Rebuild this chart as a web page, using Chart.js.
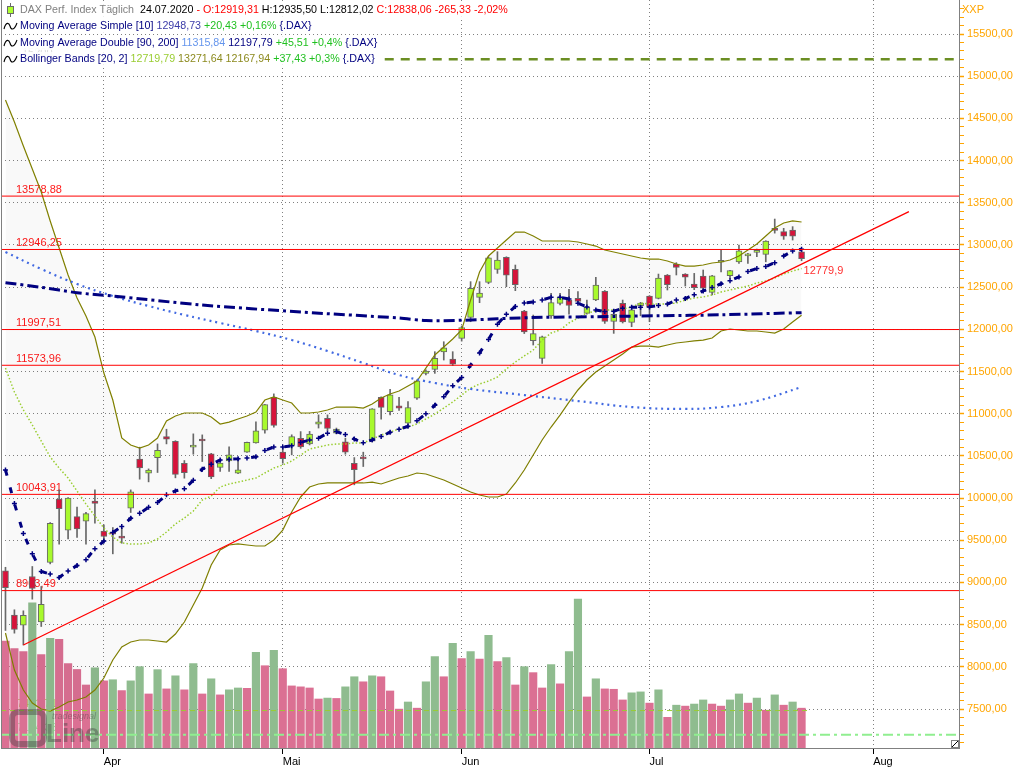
<!DOCTYPE html>
<html>
<head>
<meta charset="utf-8">
<script src="https://cdn.jsdelivr.net/npm/chart.js@4.4.0/dist/chart.umd.min.js"></script>
<style>
html, body { margin: 0; padding: 0; background: #fff; }
canvas { display: block; }
</style>
</head>
<body>
<canvas id="chart" width="1024" height="768"></canvas>
<script>
// DAX daily candles, 17.03.2020 - 24.07.2020
const dates = [
  '17.03','18.03','19.03','20.03','23.03','24.03','25.03','26.03','27.03','30.03','31.03',
  '01.04','02.04','03.04','06.04','07.04','08.04','09.04','14.04','15.04','16.04','17.04','20.04','21.04','22.04','23.04','24.04','27.04','28.04','29.04','30.04',
  '04.05','05.05','06.05','07.05','08.05','11.05','12.05','13.05','14.05','15.05','18.05','19.05','20.05','21.05','22.05','25.05','26.05','27.05','28.05','29.05',
  '02.06','03.06','04.06','05.06','08.06','09.06','10.06','11.06','12.06','15.06','16.06','17.06','18.06','19.06','22.06','23.06','24.06','25.06','26.06','29.06','30.06',
  '01.07','02.07','03.07','06.07','07.07','08.07','09.07','10.07','13.07','14.07','15.07','16.07','17.07','20.07','21.07','22.07','23.07','24.07'
];
const open = [9138,8612,8494,9071,8533,9236,9987,9620,9781,9726,
  9963,9608,9576,9533,9880,10461,10295,10480,10729,10674,
  10413,10603,10698,10524,10362,10441,10295,10544,10654,10804,
  11195,10544,10623,10709,10642,10875,10946,10769,10666,10413,
  10469,10674,11195,11025,11093,10887,11183,11478,11526,11731,
  11648,11893,12142,12379,12557,12711,12853,12711,12217,11865,
  11656,12158,12308,12347,12367,12189,12347,12450,12094,12308,
  12083,12280,12395,12367,12644,12774,12655,12537,12632,12438,
  12795,12636,12800,12870,12912,12889,13189,13157,13177,12919.31];
const high = [9180,8676,8664,9189,8952,9710,10097,10005,9892,9830,
  10097,9683,9651,9643,10097,10603,10346,10642,10816,10680,
  10445,10761,10749,10530,10420,10607,10473,10665,10903,11110,
  11235,10600,10750,10788,10790,10986,10986,10830,10710,10480,
  10544,11060,11200,11290,11195,11144,11400,11520,11735,11853,
  11735,12040,12565,12565,12860,12920,12860,12762,12225,12169,
  11920,12426,12426,12474,12446,12347,12616,12460,12217,12347,
  12240,12320,12400,12655,12650,12790,12660,12663,12703,12640,
  12940,12700,12999,12900,12950,13050,13307,13197,13217,12935.50];
const low = [8431,8399,8259,8802,8478,9220,9454,9517,9533,9454,
  9702,9485,9339,9465,9829,10224,10192,10303,10642,10240,
  10236,10520,10433,10230,10315,10315,10290,10540,10650,10770,
  10840,10413,10512,10590,10630,10830,10800,10760,10520,10157,
  10374,10665,10935,10985,11040,10863,11170,11460,11478,11636,
  11570,11860,12090,12316,12540,12663,12505,12458,11950,11814,
  11597,12130,12290,12181,12300,12180,12340,12070,11952,12075,
  12031,12160,12090,12360,12466,12644,12513,12470,12470,12407,
  12680,12600,12780,12780,12860,12800,13140,13066,13058,12812.02];
const close = [8939,8442,8610,8929,8741,9701,9874,10001,9633,9816,
  9936,9545,9571,9526,10075,10357,10333,10565,10697,10280,
  10302,10626,10676,10250,10415,10514,10336,10660,10796,11108,
  10862,10467,10729,10606,10759,10904,10825,10819,10543,10337,
  10465,11059,11075,11224,11066,11074,11391,11505,11657,11781,
  11587,12021,12487,12431,12848,12820,12643,12530,11970,11949,
  11911,12316,12382,12282,12331,12263,12524,12094,12178,12089,
  12232,12311,12261,12608,12528,12733,12617,12495,12489,12634,
  12800,12697,12931,12875,12920,13047,13172,13104,13103.39,12838.06];
// volume, Mio.
const volume = [57.2,53.2,51.6,77.6,50.0,58.6,58.1,45.1,42.0,33.7,
  42.9,35.9,36.5,30.7,35.9,43.5,28.9,41.9,31.6,38.6,
  31.1,45.1,28.9,37.0,28.4,31.1,32.1,31.9,51.1,44.0,
  52.2,42.4,33.2,32.7,32.1,26.2,26.7,26.5,32.7,38.1,
  35.4,38.6,38.1,30.5,20.8,24.6,21.3,35.4,48.9,38.1,
  56.0,47.8,51.6,47.6,60.2,46.2,48.4,33.7,43.5,40.3,
  32.1,44.6,34.3,51.6,79.7,27.3,37.0,31.6,31.4,25.7,
  29.5,30.0,24.0,31.1,16.4,22.9,22.4,23.5,25.7,23.5,
  22.4,25.7,28.9,24.0,26.7,20.2,28.4,22.9,24.6,21.3];
// Moving Average Simple [10]
const sma10 = [10334,9935,9580,9340,9130,9100,9060,9135,9200,9270,
  9400,9490,9592,9663,9760,9820,9890,9947,10038,10085,
  10110,10210,10342,10400,10450,10461,10465,10475,10490,10565,
  10605,10605,10619,10660,10688,10710,10769,10788,10752,10700,
  10655,10690,10730,10780,10816,10850,10915,11000,11100,11200,
  11330,11430,11575,11720,11880,12060,12180,12270,12312,12324,
  12348,12379,12379,12360,12308,12265,12230,12212,12215,12250,
  12262,12262,12266,12282,12300,12347,12365,12410,12455,12495,
  12540,12577,12620,12685,12720,12745,12790,12870,12928.30,12948.73];
// Bollinger Bands [20, 2]
const bbUpper = [14718,14457,14173,13900,13627,13284,12964,12644,12371,12158,
  11909,11482,11162,10712,10629,10593,10629,10712,10913,10973,
  11008,11008,11008,10961,10878,10901,10937,10973,11020,11162,
  11198,11162,11127,11008,11008,11020,11044,11079,11079,11079,
  11067,11115,11186,11233,11269,11328,11387,11541,11696,11790,
  11885,11992,12347,12679,12869,12964,13059,13153,13153,13106,
  13047,13047,13047,13047,13035,13011,12987,12940,12916,12893,
  12869,12845,12833,12833,12810,12774,12750,12750,12762,12786,
  12798,12821,12869,12940,13011,13106,13201,13260,13284,13271.64];
const bbMiddle = [11541,11257,11044,10866,10676,10487,10356,10238,10084,9930,
  9787,9645,9539,9468,9456,9456,9468,9515,9598,9693,
  9764,9847,9977,10024,10131,10167,10190,10214,10238,10297,
  10356,10392,10439,10510,10581,10605,10629,10641,10641,10653,
  10653,10700,10747,10783,10819,10842,10878,10937,10996,11067,
  11138,11221,11304,11352,11387,11435,11530,11613,11684,11755,
  11873,11956,11992,12075,12134,12193,12217,12229,12229,12241,
  12264,12312,12300,12300,12300,12312,12347,12371,12383,12407,
  12442,12466,12490,12513,12549,12573,12608,12656,12691,12719.79];
const bbLower = [8401,7962,7725,7571,7500,7476,7524,7583,7607,7642,
  7725,7867,8081,8235,8294,8318,8318,8306,8294,8389,
  8531,8733,8934,9207,9384,9444,9456,9444,9432,9432,
  9503,9621,9835,10013,10131,10167,10179,10179,10179,10179,
  10179,10190,10167,10202,10238,10262,10297,10285,10250,10214,
  10167,10119,10072,10036,10013,10013,10048,10179,10333,10510,
  10688,10842,10984,11138,11281,11399,11494,11565,11636,11707,
  11790,11802,11802,11790,11814,11838,11850,11862,11873,11897,
  11980,12004,11992,11980,11980,11968,11956,12004,12087,12167.94];
// Moving Average Double [90, 200], read at sample bars
const ma90Idx = [0,4,8,12,16,20,24,28,32,36,40,44,48,52,58,64,70,76,80,84,89];
const ma90 = [12916,12715,12537,12395,12276,12170,12075,11980,11873,11743,11601,11458,11364,11293,11221,11150,11079,11056,11079,11150,11315.84];
const ma200Idx = [0,4,8,12,22,33,44,47,51,55,60,66,73,80,89];
const ma200 = [12552,12498,12434,12395,12288,12205,12134,12104,12107,12125,12142,12150,12161,12172,12197.79];
// horizontal lines and trend line
const levels = [13578.88, 12946.25, 11997.51, 11573.96, 10043.91, 8903.49];
const volLevels = [7481.71, 7194.38];
const targetLevel = 15200;
const trendIdx = [2, 101];
const trendValues = [8259, 13395];
const trendLabel = '12779,9';
// axis ticks
const monthIdx = [11, 31, 51, 72, 97];
const monthLabels = ['Apr', 'Mai', 'Jun', 'Jul', 'Aug'];
const priceMin = 7038, priceMax = 15903;

const FONT = 'Liberation Sans';
const fmt = v => v.toFixed(2).replace('.', ',');
const idx = dates.map((d, i) => i);
const xMin = -0.5, xMax = 106.6;

const upCol = '#adff2f', downCol = '#dc143c', edgeCol = '#6b6b6b';
const bodyColors = idx.map(i => close[i] >= open[i] ? upCol : downCol);
const volColors = idx.map(i => i > 0 && volume[i] > volume[i - 1] ? '#8fbc8f' : '#db7093');

function hLine(value, x0, x1, color, width, dash, order) {
  return { type: 'line', data: [{x: x0, y: value}, {x: x1, y: value}], borderColor: color,
    borderWidth: width, borderDash: dash, pointRadius: 0, fill: false, order: order };
}

const datasets = [
  ...levels.map(v => hLine(v, xMin, xMax, '#ff0000', 1, [], 1)),
  hLine(volLevels[0], xMin, 89.9, '#9acd32', 1, [5, 4], 1),
  hLine(volLevels[1], xMin, xMax, '#90ee90', 2, [10, 4, 3, 4], 1),
  hLine(targetLevel, 42.4, xMax, '#6b8e23', 2.5, [9, 7], 1),
  { type: 'line', data: trendIdx.map((x, k) => ({x: x, y: trendValues[k]})), borderColor: '#ff0000',
    borderWidth: 1.3, pointRadius: 0, fill: false, order: 1 },
  { type: 'line', data: idx.map(i => ({x: i, y: sma10[i]})), borderColor: '#000080', borderWidth: 3,
    borderDash: [6, 12], pointStyle: 'cross', pointRadius: 2.5, pointBorderWidth: 1.5,
    pointBorderColor: '#000080', fill: false, order: 2 },
  { type: 'line', data: ma200Idx.map((x, k) => ({x: x, y: ma200[k]})), borderColor: '#000080', borderWidth: 3,
    borderDash: [11, 4, 3, 4], pointRadius: 0, tension: 0.3, fill: false, order: 2 },
  { type: 'line', data: ma90Idx.map((x, k) => ({x: x, y: ma90[k]})), borderColor: '#4169e1', borderWidth: 2.2,
    borderDash: [2, 4], pointRadius: 0, tension: 0.4, fill: false, order: 2 },
  { type: 'line', data: idx.map(i => ({x: i, y: bbMiddle[i]})), borderColor: '#9acd32', borderWidth: 1.5,
    borderDash: [1.5, 2], pointRadius: 0, fill: false, order: 2 },
  { type: 'line', data: idx.map(i => ({x: i, y: bbUpper[i]})), borderColor: '#808000', borderWidth: 1.2,
    pointRadius: 0, fill: '+1', backgroundColor: 'rgba(0,0,0,0.025)', order: 2 },
  { type: 'line', data: idx.map(i => ({x: i, y: bbLower[i]})), borderColor: '#808000', borderWidth: 1.2,
    pointRadius: 0, fill: false, order: 2 },
  { type: 'bar', data: idx.map(i => ({x: i, y: [open[i], close[i]]})), backgroundColor: bodyColors,
    borderColor: edgeCol, borderWidth: 1, borderSkipped: false, barThickness: 6, minBarLength: 2,
    grouped: false, order: 3 },
  { type: 'bar', data: idx.map(i => ({x: i, y: [low[i], high[i]]})), backgroundColor: edgeCol,
    borderWidth: 0, barThickness: 1, grouped: false, order: 4 },
  { type: 'bar', data: idx.map(i => ({x: i, y: volume[i]})), backgroundColor: volColors, borderWidth: 0,
    barThickness: 7.5, grouped: false, yAxisID: 'yv', order: 6 }
];

function runs(ctx, x, y, parts) {
  for (const p of parts) {
    ctx.fillStyle = p[1];
    ctx.fillText(p[0], x, y);
    x += ctx.measureText(p[0]).width;
  }
  return x;
}

const overlay = {
  id: 'overlay',
  beforeDatasetsDraw(chart) {
    const ctx = chart.ctx, ys = chart.scales.y;
    ctx.save();
    ctx.font = '11px "' + FONT + '"';
    ctx.textBaseline = 'bottom';
    levels.forEach(v => {
      const py = ys.getPixelForValue(v);
      ctx.fillStyle = '#ff1a1a';
      ctx.fillText(fmt(v), 16, py - 1);
    });
    ctx.fillStyle = '#9acd32';
    ctx.fillText(fmt(volLevels[0]), 17, ys.getPixelForValue(volLevels[0]) - 1);
    ctx.fillStyle = '#90ee90';
    ctx.fillText(fmt(volLevels[1]), 17, ys.getPixelForValue(volLevels[1]) - 1);
    ctx.fillStyle = 'rgba(150,150,150,0.35)';
    ctx.fillText(String(targetLevel), 22, ys.getPixelForValue(targetLevel) - 1);
    ctx.restore();
  },
  afterDraw(chart) {
    const ctx = chart.ctx, ys = chart.scales.y, xs = chart.scales.x, a = chart.chartArea;
    ctx.save();
    // left frame line
    ctx.strokeStyle = '#808080'; ctx.lineWidth = 1;
    ctx.beginPath(); ctx.moveTo(a.left + 0.5, 0); ctx.lineTo(a.left + 0.5, a.bottom); ctx.stroke();
    ctx.font = '11px "' + FONT + '"';
    ctx.textBaseline = 'middle';
    // trend label at last bar
    const last = close.length - 1;
    const tv = trendValues[0] + (trendValues[1] - trendValues[0]) * (last - trendIdx[0]) / (trendIdx[1] - trendIdx[0]);
    ctx.fillStyle = '#ff3030';
    ctx.fillText(trendLabel, xs.getPixelForValue(last) + 2, ys.getPixelForValue(tv) + 7);
    // unit
    ctx.fillStyle = '#ffa500';
    ctx.fillText('XXP', 962, 10);
    // legend rows
    ctx.font = '10.7px "' + FONT + '"';
    const rows = [
      [['DAX Perf. Index Täglich', '#808080'], ['  24.07.2020 ', '#000'], ['- ', '#ff0000'],
       ['O:' + fmt(open[last]) + ' ', '#ff0000'], ['H:' + fmt(high[last]) + ' ', '#000'],
       ['L:' + fmt(low[last]) + ' ', '#000'],
       ['C:' + fmt(close[last]) + ' ' + fmt(close[last] - close[last - 1]) + ' ' +
         fmt((close[last] - close[last - 1]) / close[last - 1] * 100) + '%', '#ff0000']],
      [['Moving Average Simple [10] ', '#000080'], [fmt(sma10[last]) + ' ', '#3a3aa8'],
       ['+20,43 +0,16% ', '#1fc01f'], ['{.DAX}', '#000080']],
      [['Moving Average Double [90, 200] ', '#000080'], [fmt(ma90[ma90.length - 1]) + ' ', '#6495ed'],
       [fmt(ma200[ma200.length - 1]) + ' ', '#000080'], ['+45,51 +0,4% ', '#1fc01f'], ['{.DAX}', '#000080']],
      [['Bollinger Bands [20, 2] ', '#000080'], [fmt(bbMiddle[last]) + ' ', '#9acd32'],
       [fmt(bbUpper[last]) + ' ' + fmt(bbLower[last]) + ' ', '#8c8a1e'], ['+37,43 +0,3% ', '#1fc01f'],
       ['{.DAX}', '#000080']]
    ];
    const rowY = [10, 26, 43, 59];
    rows.forEach((r, k) => {
      let w = 0;
      r.forEach(p => { w += ctx.measureText(p[0]).width; });
      ctx.fillStyle = 'rgba(255,255,255,0.85)';
      ctx.fillRect(a.left + 1, rowY[k] - 7, 20 + w, 14);
      runs(ctx, 20, rowY[k], r);
    });
    // icons
    ctx.strokeStyle = '#6b6b6b'; ctx.lineWidth = 1;
    ctx.beginPath(); ctx.moveTo(10.5, 3); ctx.lineTo(10.5, 17); ctx.stroke();
    ctx.fillStyle = upCol; ctx.fillRect(7, 6, 7, 8);
    ctx.strokeRect(7.5, 6.5, 6, 7);
    ctx.strokeStyle = '#000'; ctx.lineWidth = 1.1;
    [26, 43, 59].forEach(y => {
      ctx.beginPath(); ctx.moveTo(4, y + 3);
      ctx.bezierCurveTo(6, y - 5, 9, y - 3, 10, y);
      ctx.bezierCurveTo(11, y + 4, 14, y + 5, 17, y - 3);
      ctx.stroke();
    });
    // watermark
    ctx.globalAlpha = 0.4;
    ctx.strokeStyle = '#3c3c3c'; ctx.lineWidth = 6;
    ctx.beginPath(); ctx.roundRect(12, 712, 32, 32, 6); ctx.stroke();
    ctx.fillStyle = '#3c3c3c';
    ctx.font = 'bold 26px "' + FONT + '"'; ctx.textBaseline = 'alphabetic';
    ctx.fillText('Line', 46, 742);
    ctx.font = 'italic 9px "' + FONT + '"';
    ctx.fillText('tradesignal', 52, 719);
    ctx.globalAlpha = 1;
    // resize corner
    ctx.fillStyle = '#fff'; ctx.strokeStyle = '#808080'; ctx.lineWidth = 1;
    ctx.fillRect(951, 740, 8, 8); ctx.strokeRect(951.5, 740.5, 7, 7);
    ctx.strokeStyle = '#000';
    ctx.beginPath(); ctx.moveTo(952, 747); ctx.lineTo(958, 741); ctx.stroke();
    ctx.restore();
  }
};

Chart.defaults.font.family = FONT;
Chart.defaults.font.size = 11;

new Chart(document.getElementById('chart'), {
  type: 'bar',
  data: { datasets: datasets },
  options: {
    responsive: false,
    animation: false,
    events: [],
    layout: { autoPadding: false, padding: { left: 1, top: 0, right: 0, bottom: 0 } },
    plugins: { legend: { display: false }, tooltip: { enabled: false } },
    scales: {
      x: {
        type: 'linear', min: xMin, max: xMax, offset: false,
        afterBuildTicks: s => { s.ticks = monthIdx.map(v => ({value: v})); },
        afterFit: s => { s.height = 20; s.paddingLeft = 0; s.paddingRight = 0; },
        ticks: { autoSkip: false, maxRotation: 0, align: 'start', padding: 1, color: '#000',
          callback: v => monthLabels[monthIdx.indexOf(v)] },
        grid: { color: '#808080', offset: false, tickLength: 6, tickColor: '#000' },
        border: { color: '#808080', dash: [1, 3] }
      },
      y: {
        position: 'right', min: priceMin, max: priceMax,
        afterBuildTicks: s => {
          const t = [];
          for (let v = 7100; v <= 15800; v += 100) t.push({value: v});
          s.ticks = t;
        },
        afterFit: s => { s.width = 65; s.paddingTop = 0; s.paddingBottom = 0; },
        ticks: { autoSkip: false, color: '#ffa500', padding: 3,
          callback: v => v % 500 === 0 ? fmt(v) : '' },
        grid: {
          color: c => c.tick && c.tick.value % 500 === 0 ? '#808080' : 'rgba(0,0,0,0)',
          tickColor: '#ffa500', tickLength: 5,
          tickWidth: c => c.tick && c.tick.value % 500 === 0 ? 1.5 : 1
        },
        border: { color: '#808080', dash: [1, 3] }
      },
      yv: { display: false, min: 0, max: 400 }
    }
  },
  plugins: [overlay]
});
</script>
</body>
</html>
